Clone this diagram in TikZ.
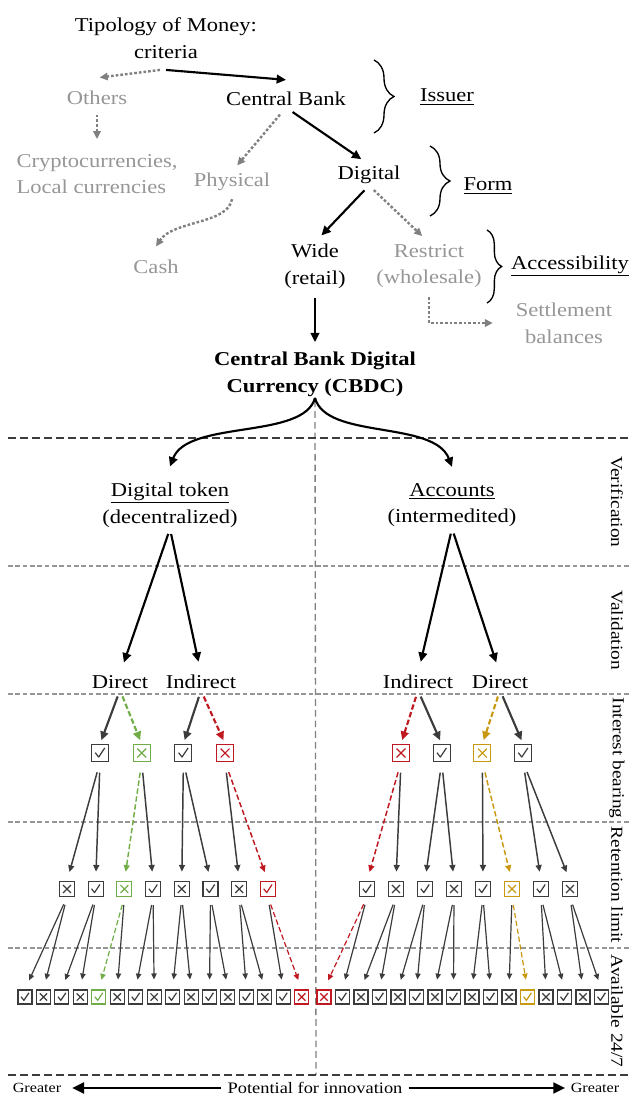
\documentclass[tikz,border=0pt]{standalone}
\usepackage{fontspec}
\setmainfont{Liberation Serif}[FakeStretch=1.15]
\usetikzlibrary{arrows.meta,decorations.pathreplacing}

\definecolor{faded}{RGB}{150,150,150}
\definecolor{dots}{RGB}{128,128,128}
\definecolor{ink}{RGB}{60,60,60}
\definecolor{okgreen}{RGB}{112,173,71}
\definecolor{alarmred}{RGB}{192,24,32}
\definecolor{gold}{RGB}{200,152,16}
\newcommand\plainsize{\fontsize{14.7}{20}\selectfont}

\tikzset{
% typology tree: followed branch and discarded branches
kept/.style={align=center, inner sep=1pt},
dropped/.style={kept, text=faded},
tag/.style={inner sep=1pt},
lead/.style={-{Triangle[length=7pt,width=6.5pt]}, line width=1.6pt},
stray/.style={-{Triangle[length=6pt,width=5.5pt]}, dots, line width=1.8pt, dash pattern=on 2pt off 1.5pt},
curly/.style={decorate, decoration={brace, amplitude=#1}, line width=1pt},
curly/.default=15pt,
% layers of the CBDC design
tier line/.style={draw=#1, line width=.8pt, dash pattern=on 3.5pt off 2pt},
tier line/.default=faded,
stage/.style={rotate=-90, font=\fontsize{12.6}{15}\selectfont},
fork/.style={-{Triangle[length=6.5pt,width=6pt]}, ink, line width=1.6pt},
branch/.style={-{Triangle[length=5pt,width=4.5pt]}, ink, line width=1.1pt},
twig/.style={-{Triangle[length=4.5pt,width=4pt]}, ink, line width=.9pt},
no trail/.style={},
green trail/.style={okgreen, dash pattern=on 4pt off 2pt},
red trail/.style={alarmred, dash pattern=on 4pt off 2pt},
gold trail/.style={gold, dash pattern=on 4pt off 2pt},
% ballot boxes: size, colour
yes/.style 2 args={draw=#2, line width=.8pt, minimum size=#1, inner sep=0pt,
  path picture={\draw[#2, line width=.9pt, line join=round]
    ([shift={(-.28*#1,.02*#1)}]path picture bounding box.center) --
    ([shift={(-.08*#1,-.24*#1)}]path picture bounding box.center) --
    ([shift={(.28*#1,.3*#1)}]path picture bounding box.center);}},
no/.style 2 args={draw=#2, line width=.8pt, minimum size=#1, inner sep=0pt,
  path picture={\draw[#2, line width=.9pt]
    ([shift={(-.26*#1,-.26*#1)}]path picture bounding box.center) --
    ([shift={(.26*#1,.26*#1)}]path picture bounding box.center)
    ([shift={(-.26*#1,.26*#1)}]path picture bounding box.center) --
    ([shift={(.26*#1,-.26*#1)}]path picture bounding box.center);}}
}

\begin{document}
\begin{tikzpicture}[x=0.75pt, y=-0.75pt, font=\plainsize]
\useasboundingbox (0,0) rectangle (629,1097);

% typology of money
\node[kept] (title) at (166,38) {Tipology of Money:\\criteria};
\node[dropped] (others) at (97,98) {Others};
\node[dropped, align=left] (crypto) at (97,174) {Cryptocurrencies,\\Local currencies};
\node[kept] (cb) at (286,99) {Central Bank};
\node[dropped] (physical) at (232,182) {Physical};
\node[kept] (digital) at (369,175) {Digital};
\node[dropped] (cash) at (156,267) {Cash};
\node[kept] (wide) at (315,266) {Wide\\(retail)};
\node[dropped] (restrict) at (429,266) {Restrict\\(wholesale)};
\node[dropped] (settle) at (564,323) {Settlement\\balances};
\node[tag] (issuer) at (447,97) {\underline{Issuer}};
\node[tag] (form) at (488,186) {\underline{Form}};
\node[tag] (access) at (570,266) {\underline{Accessibility}};
\node[kept, font=\plainsize\bfseries] (cbdc) at (315,374) {Central Bank Digital\\Currency (CBDC)};

\draw[curly] (374,60) -- (374,133);
\draw[curly] (430,146) -- (430,216);
\draw[curly=11pt] (487,230) -- (487,303);

\draw[lead] ([yshift=-7.5pt]title.south) -- ([yshift=8pt]cb.north);
\draw[stray] ([xshift=-4.5pt,yshift=-7.5pt]title.south) -- ([xshift=2pt,yshift=9pt]others.north);
\draw[stray, shorten <=6pt, shorten >=10pt] (others.south) -- (crypto.north);
\draw[lead, shorten <=6pt, shorten >=7pt] (cb.south) -- (digital.north);
\draw[stray, shorten <=7pt, shorten >=6pt] (cb.south) -- (physical.north);
\draw[lead, shorten <=5pt, shorten >=7pt] (digital.south) -- (wide.north);
\draw[stray, shorten <=5pt, shorten >=7pt] (digital.south) -- (restrict.north);
\draw[stray] ([yshift=-5pt]physical.south) .. controls +(-4,25) and +(17,-26) .. ([yshift=9pt]cash.north);
\draw[stray] ([yshift=-5.5pt]restrict.south) |- ([xshift=-16pt]settle.west);
\draw[lead, shorten <=6pt, shorten >=6pt] (wide.south) -- (cbdc.north);

% CBDC design choices
\node[kept] (token) at (170,505) {\underline{Digital token}\\(decentralized)};
\node[kept] (accounts) at (452,505) {\underline{Accounts}\\(intermedited)};
\node[tag] (tdirect) at (120,682) {Direct};
\node[tag] (tindirect) at (201,682) {Indirect};
\node[tag] (aindirect) at (418,682) {Indirect};
\node[tag] (adirect) at (500,682) {Direct};

\coordinate (floor) at (316,1075);
\draw[tier line=dots, line width=1pt, dash pattern=on 5pt off 3pt] ([yshift=-2pt]cbdc.south) -- (floor);
\draw[tier line=ink, line width=1.3pt, dash pattern=on 6pt off 3pt] (8,438) -- (629,438);
\draw[tier line=ink, line width=1.3pt, dash pattern=on 6pt off 3pt] (8,1075) -- (629,1075);
\foreach \y in {566,694,822,948}
  \draw[tier line] (8,\y) -- (629,\y);
\foreach \name/\y [count=\n] in {Verification/502, Validation/630, Interest bearing/758, Retention limit/885, {Available 24/7}/1011}
  \node[stage] (stage-\n) at (617,\y) {\name};

\draw[lead] (cbdc.south) .. controls +(-11,42) and +(18,-47) .. ([yshift=11pt]token.north);
\draw[lead] (cbdc.south) .. controls +(11,42) and +(-18,-47) .. ([yshift=11pt]accounts.north);
\foreach \a/\b in {token/tdirect, token/tindirect, accounts/aindirect, accounts/adirect}
  \draw[lead, shorten <=4pt, shorten >=9pt] (\a.south) -- (\b.north);

% interest bearing
\foreach \t/\c [count=\j from 0] in {yes/ink, no/okgreen, yes/ink, no/alarmred}
  \node[\t={12.75pt}{\c}] (tok3-\j) at ({100+41.7*\j},753) {};
\foreach \t/\c [count=\j from 0] in {no/alarmred, yes/ink, no/gold, yes/ink}
  \node[\t={12.75pt}{\c}] (acc3-\j) at ({401+40.7*\j},753) {};
% retention limit
\foreach \t/\c [count=\k from 0] in {no/ink, yes/ink, no/okgreen, yes/ink, no/ink, yes/ink, no/ink, yes/alarmred}
  \node[\t={11.25pt}{\c}] (tok4-\k) at ({67+28.7*\k},889) {};
\foreach \t/\c [count=\k from 0] in {yes/ink, no/ink, yes/ink, no/ink, yes/ink, no/gold, yes/ink, no/ink}
  \node[\t={11.25pt}{\c}] (acc4-\k) at ({367+29*\k},889) {};
% available 24/7
\foreach \t/\c [count=\i from 0] in {yes/ink, no/ink, yes/ink, no/ink, yes/okgreen, no/ink, yes/ink, no/ink,
    yes/ink, no/ink, yes/ink, no/ink, yes/ink, no/ink, yes/ink, no/alarmred}
  \node[\t={10.5pt}{\c}] (tok5-\i) at ({25+18.45*\i},997) {};
\foreach \t/\c [count=\i from 0] in {no/alarmred, yes/ink, no/ink, yes/ink, no/ink, yes/ink, no/ink, yes/ink,
    no/ink, yes/ink, no/ink, yes/gold, no/ink, yes/ink, no/ink, yes/ink}
  \node[\t={10.5pt}{\c}] (acc5-\i) at ({324+18.5*\i},997) {};

\draw[fork, shorten <=5pt, shorten >=3pt] (tdirect.south) -- (tok3-0.north);
\draw[fork, green trail, shorten <=5pt, shorten >=3pt] (tdirect.south) -- (tok3-1.north);
\draw[fork, shorten <=5pt, shorten >=3pt] (tindirect.south) -- (tok3-2.north);
\draw[fork, red trail, shorten <=5pt, shorten >=3pt] (tindirect.south) -- (tok3-3.north);
\draw[fork, red trail, shorten <=5pt, shorten >=3pt] (aindirect.south) -- (acc3-0.north);
\draw[fork, shorten <=5pt, shorten >=3pt] (aindirect.south) -- (acc3-1.north);
\draw[fork, gold trail, shorten <=5pt, shorten >=3pt] (adirect.south) -- (acc3-2.north);
\draw[fork, shorten <=5pt, shorten >=3pt] (adirect.south) -- (acc3-3.north);

\foreach \k in {0,...,7}{
  \pgfmathtruncatemacro\j{\k/2}
  \def\s{no trail}\ifnum\k=2 \def\s{green trail}\fi\ifnum\k=7 \def\s{red trail}\fi
  \draw[branch, \s, shorten <=8pt, shorten >=7pt] (tok3-\j.south) -- (tok4-\k.north);
  \def\s{no trail}\ifnum\k=0 \def\s{red trail}\fi\ifnum\k=5 \def\s{gold trail}\fi
  \draw[branch, \s, shorten <=8pt, shorten >=7pt] (acc3-\j.south) -- (acc4-\k.north);
}
\foreach \i in {0,...,15}{
  \pgfmathtruncatemacro\k{\i/2}
  \def\s{no trail}\ifnum\i=4 \def\s{green trail}\fi\ifnum\i=15 \def\s{red trail}\fi
  \draw[twig, \s, shorten <=6pt, shorten >=7.5pt] (tok4-\k.south) -- (tok5-\i.north);
  \def\s{no trail}\ifnum\i=0 \def\s{red trail}\fi\ifnum\i=11 \def\s{gold trail}\fi
  \draw[twig, \s, shorten <=6pt, shorten >=7.5pt] (acc4-\k.south) -- (acc5-\i.north);
}

% potential for innovation
\node[tag, font=\fontsize{10.5}{12}\selectfont] (lgreater) at (37,1088) {Greater};
\node[tag, font=\fontsize{12}{14}\selectfont] (potential) at (315,1088) {Potential for innovation};
\node[tag, font=\fontsize{10.5}{12}\selectfont] (rgreater) at (595,1088) {Greater};
\draw[-{Triangle[length=9pt,width=8pt]}, line width=2.2pt, shorten <=3.5pt, shorten >=7pt] (potential.west) -- (lgreater.east);
\draw[-{Triangle[length=9pt,width=8pt]}, line width=2.2pt, shorten <=3.5pt, shorten >=3pt] (potential.east) -- (rgreater.west);
\end{tikzpicture}
\end{document}
